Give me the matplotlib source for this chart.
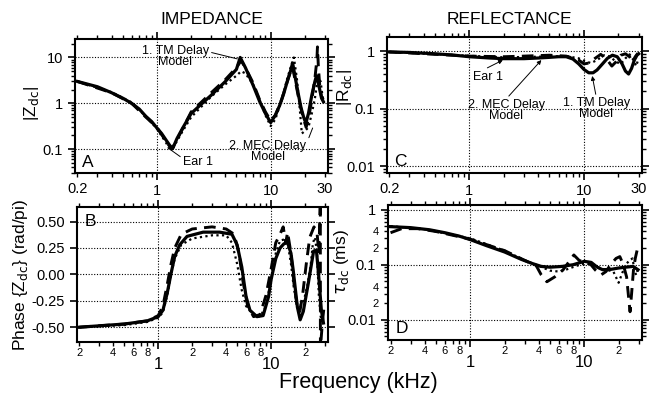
import numpy as np
import matplotlib
matplotlib.use("Agg")
import matplotlib.pyplot as plt
from matplotlib.ticker import FixedLocator, FuncFormatter, NullFormatter, LogLocator

plt.rcParams['font.family'] = ['Liberation Sans', 'DejaVu Sans']

# ---- Panel A: |Zdc| ----
fa_ear = [0.2, 0.3, 0.4, 0.5, 0.6, 0.7, 0.8, 0.9, 1.0, 1.1, 1.2, 1.3, 1.38, 1.5, 1.7, 2.0, 2.5, 3.0, 4.0,
          5.0, 5.4, 6.0, 7.0, 8.0, 9.0, 10.0, 11.0, 12.0, 13.0, 14.0, 15.0, 15.6, 16.5, 17.5, 18.5,
          19.5, 20.4, 21.5, 23.0, 24.5, 25.3, 26.5, 28.0, 29.0]
za_ear = [3.0, 2.3, 1.7, 1.3, 1.0, 0.75, 0.52, 0.4, 0.29, 0.22, 0.16, 0.12, 0.105, 0.17, 0.3, 0.6, 1.0, 1.5, 3.0,
          5.5, 10.0, 6.0, 2.5, 1.1, 0.6, 0.38, 0.55, 0.9, 1.6, 3.0, 5.2, 7.6, 3.5, 1.6, 0.8,
          0.5, 0.37, 0.6, 1.5, 3.0, 4.0, 2.5, 1.3, 1.1]
fa_tm = [0.2, 0.4, 0.6, 0.8, 1.0, 1.2, 1.35, 1.5, 2.0, 3.0, 4.0, 5.0, 5.5, 6.0, 7.0, 8.0, 9.0, 10.0, 11.0,
         12.5, 14.0, 15.5, 16.5, 18.0, 19.5, 20.5, 21.5, 23.0, 24.5, 25.5, 25.8, 26.3, 27.0, 28.0, 29.0]
za_tm = [3.0, 1.7, 1.0, 0.5, 0.3, 0.15, 0.1, 0.16, 0.65, 1.7, 3.3, 6.0, 8.5, 6.0, 2.8, 1.2, 0.65, 0.42, 0.55,
         1.2, 3.0, 6.5, 3.0, 1.0, 0.45, 0.3, 0.45, 1.2, 3.5, 9.0, 17.0, 6.0, 2.5, 1.4, 1.2]
fa_mec = [0.2, 0.4, 0.6, 0.8, 1.0, 1.2, 1.3, 1.4, 1.6, 2.0, 3.0, 4.0, 5.0, 5.5, 6.0, 7.0, 8.0, 9.0, 10.0,
          11.0, 12.5, 14.0, 15.5, 16.0, 17.0, 18.0, 18.8, 20.0, 21.5, 23.0, 24.5, 25.5, 26.5, 27.5,
          28.5, 29.5]
za_mec = [3.0, 1.75, 1.05, 0.52, 0.28, 0.14, 0.1, 0.11, 0.2, 0.5, 1.4, 2.6, 4.0, 5.0, 4.5, 2.6, 1.2, 0.55, 0.32,
          0.45, 1.2, 3.5, 8.0, 10.0, 3.5, 0.8, 0.22, 0.25, 0.3, 0.6, 1.3, 2.5, 3.5, 3.0,
          1.5, 1.0]

# ---- Panel B: phase of Zdc (rad/pi) ----
fb_ear = [0.2, 0.5, 0.8, 1.0, 1.1, 1.2, 1.3, 1.4, 1.55, 1.8, 2.5, 3.5, 4.5, 5.0, 5.5, 6.0, 6.5, 7.5, 8.5,
          9.5, 10.0, 11.0, 12.0, 13.0, 14.0, 15.0, 15.7, 17.1, 18.1, 19.3, 21.4, 23.8, 25.2, 26.3,
          27.9, 29.1]
pb_ear = [-0.5, -0.47, -0.44, -0.40, -0.34, -0.18, 0.01, 0.17, 0.28, 0.36, 0.40, 0.40, 0.38, 0.28, 0.07,
          -0.21, -0.34, -0.40, -0.39, -0.21, -0.05, 0.15, 0.25, 0.29, 0.30, 0.20, 0.04, -0.31, -0.43,
          -0.35, -0.08, 0.22, 0.23, 0.01, -0.34, -0.46]
fb_tm = [0.2, 0.5, 0.8, 1.0, 1.1, 1.2, 1.3, 1.4, 1.6, 2.0, 3.0, 4.0, 4.7, 5.2, 5.6, 6.2, 7.0, 8.0, 9.0,
         10.0, 11.0, 12.0, 12.8, 13.5, 14.0, 15.0, 16.0, 17.0, 18.0, 19.0, 20.5, 22.0, 24.0, 25.5,
         26.5, 27.3, 27.35, 28.5, 29.5]
pb_tm = [-0.5, -0.47, -0.44, -0.39, -0.3, -0.1, 0.1, 0.25, 0.38, 0.43, 0.45, 0.43, 0.38, 0.2, -0.05, -0.3,
         -0.4, -0.38, -0.2, 0.05, 0.3, 0.38, 0.45, 0.3, 0.4, 0.2, -0.1, -0.3, -0.35, -0.2, 0.1, 0.35,
         0.45, 0.4, 0.2, 0.7, -0.7, -0.45, -0.3]
fb_mec = [0.2, 0.5, 0.8, 1.0, 1.1, 1.2, 1.3, 1.4, 1.6, 2.0, 3.0, 4.0, 4.5, 5.0, 5.5, 6.0, 7.0, 8.0, 9.0,
          10.0, 11.0, 12.0, 13.0, 14.0, 15.0, 16.0, 17.0, 18.0, 19.5, 21.0, 22.5, 23.5, 24.5, 25.5,
          26.5, 27.5, 28.5]
pb_mec = [-0.5, -0.48, -0.45, -0.41, -0.36, -0.2, 0.0, 0.15, 0.28, 0.34, 0.37, 0.37, 0.3, 0.1, -0.15, -0.3,
          -0.38, -0.4, -0.3, -0.05, 0.2, 0.32, 0.33, 0.3, 0.1, -0.15, -0.28, -0.3, -0.25, -0.1, 0.1, 0.3,
          0.35, 0.2, -0.2, -0.4, -0.45]

# ---- Panel C: |Rdc| ----
fc_ear = [0.2, 0.3, 0.5, 0.7, 1.0, 1.5, 2.0, 3.0, 4.0, 5.0, 6.0, 7.0, 8.0, 9.0, 10.0, 11.0, 12.0, 13.0,
          14.5, 16.0, 17.7, 19.5, 21.5, 23.0, 24.5, 26.0, 27.5, 29.0, 30.0]
rc_ear = [0.97, 0.95, 0.9, 0.86, 0.8, 0.76, 0.74, 0.74, 0.76, 0.78, 0.8, 0.8, 0.73, 0.6, 0.48, 0.42, 0.42,
          0.47, 0.6, 0.75, 0.85, 0.8, 0.6, 0.45, 0.4, 0.5, 0.7, 0.85, 0.9]
fc_tm = [0.2, 1.0, 2.0, 3.0, 5.0, 7.0, 9.0, 10.0, 11.0, 12.5, 14.0, 16.0, 17.5, 19.0, 21.0, 23.0, 25.0,
         26.5, 28.0, 29.5]
rc_tm = [0.97, 0.82, 0.8, 0.82, 0.85, 0.82, 0.7, 0.6, 0.62, 0.75, 0.88, 0.7, 0.55, 0.65, 0.85, 0.9, 0.8,
         0.65, 0.8, 0.92]
fc_mec = [0.2, 1.0, 2.0, 4.0, 7.0, 9.0, 10.0, 11.5, 13.0, 15.0, 17.0, 19.0, 21.0, 23.0, 25.0, 27.0, 28.5,
          30.0]
rc_mec = [0.97, 0.83, 0.78, 0.8, 0.82, 0.75, 0.68, 0.62, 0.7, 0.85, 0.8, 0.65, 0.6, 0.75, 0.88, 0.7, 0.55,
          0.75]

# ---- Panel D: tau_dc (ms) ----
fd_ear = [0.2, 0.3, 0.44, 0.6, 0.8, 1.0, 1.4, 2.0, 2.8, 3.5, 4.2, 5.0, 6.4, 8.0, 10.0, 11.5, 13.0, 14.5,
          17.0, 20.0, 23.0, 26.8, 29.6]
td_ear = [0.49, 0.47, 0.43, 0.38, 0.33, 0.285, 0.22, 0.17, 0.125, 0.105, 0.093, 0.09, 0.093, 0.1, 0.115,
          0.11, 0.09, 0.081, 0.082, 0.087, 0.09, 0.093, 0.081]
fd_tm = [0.2, 0.25, 0.35, 0.5, 1.0, 2.0, 3.0, 3.8, 4.2, 4.7, 5.5, 6.5, 7.5, 8.1, 9.0, 10.0, 11.0, 12.5,
         14.0, 15.5, 17.0, 19.0, 20.5, 22.0, 23.5, 24.5, 25.2, 26.0, 27.0, 28.0, 29.5]
td_tm = [0.38, 0.45, 0.45, 0.4, 0.29, 0.18, 0.12, 0.095, 0.065, 0.049, 0.06, 0.08, 0.12, 0.15, 0.12, 0.11,
         0.11, 0.08, 0.065, 0.075, 0.1, 0.13, 0.14, 0.1, 0.06, 0.025, 0.014, 0.03, 0.08, 0.13, 0.21]
fd_mec = [0.2, 0.4, 1.0, 2.0, 3.0, 4.0, 5.0, 6.0, 7.0, 8.5, 10.0, 12.0, 14.0, 16.0, 18.0, 20.0, 21.5, 23.0,
          25.0, 26.5, 27.5, 28.5, 29.5]
td_mec = [0.5, 0.44, 0.3, 0.18, 0.12, 0.095, 0.078, 0.075, 0.082, 0.095, 0.105, 0.1, 0.085, 0.08, 0.075,
          0.047, 0.07, 0.1, 0.12, 0.13, 0.08, 0.065, 0.085]

FREQ_LIM = (0.19, 32)
minor_label_vals = [0.2, 0.4, 0.6, 0.8, 2, 4, 6, 8, 20]


def style_ear(ax, f, v):
    ax.plot(f, v, color="black", lw=2.3, ls="-")


def style_tm(ax, f, v):
    ax.plot(f, v, color="black", lw=2.1, ls=(0, (4, 2.5)))


def style_mec(ax, f, v):
    ax.plot(f, v, color="black", lw=1.6, ls=(0, (1, 1.5)))


def lead_digit(v):
    return str(int(round(v / 10 ** np.floor(np.log10(v) + 1e-9))))


def common(ax):
    ax.set_xscale("log")
    ax.set_xlim(*FREQ_LIM)
    ax.tick_params(which="both", direction="out", top=True, right=True, labelsize=10.5)
    ax.tick_params(which="major", length=5, width=1.2)
    ax.tick_params(which="minor", length=3, width=1.0)
    for s in ax.spines.values():
        s.set_linewidth(1.5)
    ax.xaxis.set_major_locator(FixedLocator([1, 10]))
    ax.xaxis.set_minor_locator(LogLocator(base=10, subs=np.arange(2, 10)))


def top_xlabels(ax):
    ax.xaxis.set_major_formatter(FuncFormatter(lambda v, p: "%g" % v))
    ax.xaxis.set_minor_formatter(FuncFormatter(
        lambda v, p: "%g" % round(v, 1) if np.isclose(v, 0.2) or np.isclose(v, 30) else ""))
    ax.tick_params(axis="x", which="minor", labelsize=10.5, pad=3)
    ax.tick_params(axis="x", which="major", pad=3)


def bottom_xlabels(ax):
    ax.xaxis.set_major_formatter(FuncFormatter(lambda v, p: "%g" % v))
    ax.xaxis.set_minor_formatter(FuncFormatter(
        lambda v, p: lead_digit(v) if any(np.isclose(v, m) for m in minor_label_vals) else ""))
    ax.tick_params(axis="x", which="minor", labelsize=8, pad=1.5)
    ax.tick_params(axis="x", which="major", labelsize=12, pad=6)


def grid_lines(ax, ys):
    for x in [1, 10]:
        ax.axvline(x, color="black", lw=0.8, ls=(0, (1, 1.5)), zorder=0)
    for y in ys:
        ax.axhline(y, color="black", lw=0.8, ls=(0, (1, 1.5)), zorder=0)


fig = plt.figure(figsize=(6.51, 4.0), dpi=100)
axA = fig.add_axes([0.115, 0.567, 0.389, 0.335])
axB = fig.add_axes([0.118, 0.145, 0.386, 0.338])
axC = fig.add_axes([0.594, 0.567, 0.392, 0.34])
axD = fig.add_axes([0.596, 0.150, 0.390, 0.337])

# Panel A
common(axA)
axA.set_yscale("log")
axA.set_ylim(0.03, 25)
axA.yaxis.set_major_locator(FixedLocator([0.1, 1, 10]))
axA.yaxis.set_major_formatter(FuncFormatter(lambda v, p: "%g" % v))
axA.yaxis.set_minor_formatter(NullFormatter())
top_xlabels(axA)
grid_lines(axA, [0.1, 1, 10])
style_ear(axA, fa_ear, za_ear)
style_tm(axA, fa_tm, za_tm)
style_mec(axA, fa_mec, za_mec)
axA.set_ylabel("|Z$_{\\rm dc}$|", fontsize=12.5)
axA.yaxis.set_label_coords(-0.135, 0.52)
axA.text(0.03, 0.05, "A", transform=axA.transAxes, fontsize=12.5)
axA.annotate("1. TM Delay\nModel", xy=(5.1, 9.3), xytext=(1.45, 10.5), fontsize=9, ha="center",
             va="center", linespacing=0.9,
             arrowprops=dict(arrowstyle="-", lw=0.7, color="black", shrinkA=0, shrinkB=0,
                             relpos=(1.0, 0.7)))
axA.annotate("Ear 1", xy=(1.25, 0.107), xytext=(2.3, 0.052), fontsize=9, ha="center", va="center",
             arrowprops=dict(arrowstyle="-", lw=0.7, color="black", shrinkA=0, shrinkB=0,
                             relpos=(0.0, 0.8)))
axA.annotate("2. MEC Delay\nModel", xy=(23.4, 0.29), xytext=(9.4, 0.088), fontsize=9, ha="center",
             va="center", linespacing=0.9,
             arrowprops=dict(arrowstyle="-", lw=0.7, color="black", shrinkA=0, shrinkB=0,
                             relpos=(1.0, 0.8)))

# Panel B
common(axB)
axB.set_ylim(-0.64, 0.64)
axB.yaxis.set_major_locator(FixedLocator([-0.5, -0.25, 0.0, 0.25, 0.5]))
axB.yaxis.set_major_formatter(FuncFormatter(lambda v, p: "%.2f" % v))
bottom_xlabels(axB)
grid_lines(axB, [-0.5, -0.25, 0.0, 0.25, 0.5])
style_ear(axB, fb_ear, pb_ear)
style_tm(axB, fb_tm, pb_tm)
style_mec(axB, fb_mec, pb_mec)
axB.set_ylabel("Phase {Z$_{\\rm dc}$} (rad/pi)", fontsize=12.5)
axB.yaxis.set_label_coords(-0.185, 0.5)
axB.text(0.03, 0.86, "B", transform=axB.transAxes, fontsize=12.5)

# Panel C
common(axC)
axC.set_yscale("log")
axC.set_ylim(0.0075, 1.75)
axC.yaxis.set_major_locator(FixedLocator([0.01, 0.1, 1]))
axC.yaxis.set_major_formatter(FuncFormatter(lambda v, p: "%g" % v))
axC.yaxis.set_minor_formatter(NullFormatter())
top_xlabels(axC)
grid_lines(axC, [0.01, 0.1, 1])
style_ear(axC, fc_ear, rc_ear)
style_tm(axC, fc_tm, rc_tm)
style_mec(axC, fc_mec, rc_mec)
axC.set_ylabel("|R$_{\\rm dc}$|", fontsize=12.5)
axC.yaxis.set_label_coords(-0.13, 0.63)
axC.text(0.03, 0.05, "C", transform=axC.transAxes, fontsize=12.5)
axC.annotate("Ear 1", xy=(1.96, 0.70), xytext=(1.45, 0.36), fontsize=9, ha="center", va="center",
             arrowprops=dict(arrowstyle="-|>", lw=0.7, color="black", shrinkA=0, shrinkB=0,
                             mutation_scale=6, relpos=(0.3, 1.0)))
axC.annotate("2. MEC Delay\nModel", xy=(4.25, 0.70), xytext=(2.1, 0.093), fontsize=9, ha="center",
             va="center", linespacing=0.9,
             arrowprops=dict(arrowstyle="-|>", lw=0.7, color="black", shrinkA=0, shrinkB=0,
                             mutation_scale=6, relpos=(0.5, 1.0)))
axC.annotate("1. TM Delay\nModel", xy=(11.8, 0.37), xytext=(12.8, 0.1), fontsize=9, ha="center",
             va="center", linespacing=0.9,
             arrowprops=dict(arrowstyle="-|>", lw=0.7, color="black", shrinkA=0, shrinkB=0,
                             mutation_scale=6, relpos=(0.5, 1.0)))

# Panel D
common(axD)
axD.set_yscale("log")
axD.set_ylim(0.0043, 1.2)
axD.yaxis.set_major_locator(FixedLocator([0.01, 0.1, 1]))
axD.yaxis.set_major_formatter(FuncFormatter(lambda v, p: "%g" % v))
axD.yaxis.set_minor_locator(LogLocator(base=10, subs=np.arange(2, 10)))
axD.yaxis.set_minor_formatter(FuncFormatter(
    lambda v, p: lead_digit(v) if any(np.isclose(v, m) for m in [0.02, 0.04, 0.2, 0.4]) else ""))
axD.tick_params(axis="y", which="minor", labelsize=8)
bottom_xlabels(axD)
grid_lines(axD, [0.01, 0.1, 1])
style_ear(axD, fd_ear, td_ear)
style_tm(axD, fd_tm, td_tm)
style_mec(axD, fd_mec, td_mec)
axD.set_ylabel("$\\tau_{\\rm dc}$ (ms)", fontsize=12.5)
axD.yaxis.set_label_coords(-0.145, 0.58)
axD.text(0.03, 0.05, "D", transform=axD.transAxes, fontsize=12.5)

fig.text(0.326, 0.952, "IMPEDANCE", ha="center", va="center", fontsize=12.5)
fig.text(0.783, 0.952, "REFLECTANCE", ha="center", va="center", fontsize=12.5)
fig.text(0.55, 0.043, "Frequency (kHz)", ha="center", va="center", fontsize=15.5)

fig.savefig("out.png", dpi=100)
